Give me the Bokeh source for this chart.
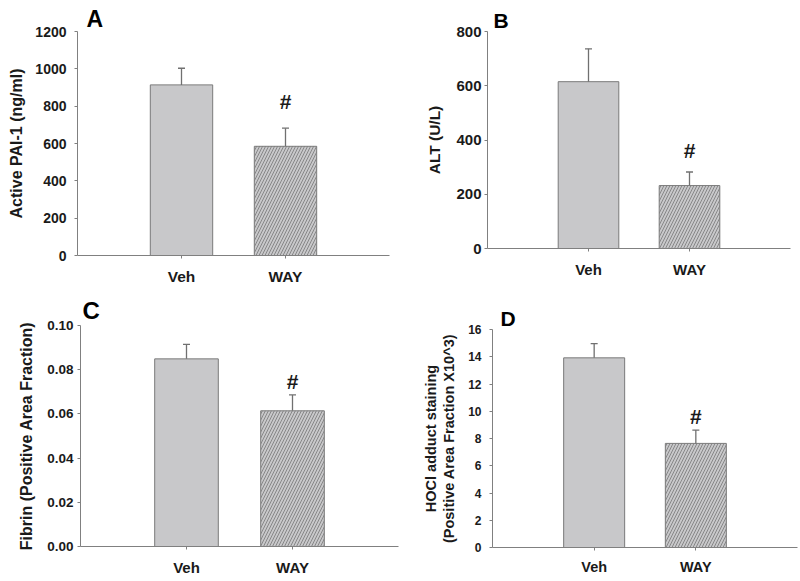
from bokeh.plotting import figure
from bokeh.models import (Range1d, FixedTicker, Whisker, TeeHead, Title,
                          ColumnDataSource, NumeralTickFormatter)
from bokeh.layouts import row, column
from bokeh.embed import file_html
from bokeh.resources import INLINE
from bokeh.core.properties import value

# ---------------- data ----------------
categories = ["Veh", "WAY"]
significance = ["", "#"]

pai1_mean = [914, 585]
pai1_sem = [89, 97]
pai1_ticks = [0, 200, 400, 600, 800, 1000, 1200]

alt_mean = [615, 232]
alt_sem = [121, 50]
alt_ticks = [0, 200, 400, 600, 800]

fibrin_mean = [0.0849, 0.0614]
fibrin_sem = [0.0066, 0.0072]
fibrin_ticks = [0.00, 0.02, 0.04, 0.06, 0.08, 0.10]

hocl_mean = [13.92, 7.64]
hocl_sem = [1.05, 0.98]
hocl_ticks = [0, 2, 4, 6, 8, 10, 12, 14, 16]

# ---------------- style ----------------
FONT = "Liberation Sans"
BAR_FILL = "#c8c8ca"
BAR_LINE = "#7a7a7a"
AXIS = "#808080"
ERR = "#707070"
TEXT = "#1a1a1a"


def panel(letter, ylabel, mean, sem, ticks, fmt, g):
    xs = [i + 1 for i in range(len(categories))]
    err = [m + s for m, s in zip(mean, sem)]
    src = ColumnDataSource(dict(x=xs, mean=mean, err=err, sig=significance,
                                hatch=[" ", "/"]))
    title = Title(text=letter, align="left", offset=g["lx"], standoff=g["ls"],
                  text_font=FONT, text_font_style="bold",
                  text_font_size=g["let_fs"], text_color="#000000",
                  vertical_align="bottom")
    p = figure(width=g["w"], height=g["h"], x_range=Range1d(0, 3),
               y_range=Range1d(ticks[0], ticks[-1]), title=title,
               output_backend="svg", toolbar_location=None,
               min_border_left=g["bl"], min_border_right=g["br"],
               min_border_top=g["bt"], min_border_bottom=g["bb"])
    p.outline_line_color = None
    p.xgrid.visible = False
    p.ygrid.visible = False
    p.background_fill_color = "white"
    p.border_fill_color = "white"

    p.vbar(x="x", top="mean", width=0.6, bottom=0, source=src,
           fill_color=BAR_FILL, line_color=BAR_LINE, line_width=1,
           hatch_pattern="hatch", hatch_color="#6a6a6a", hatch_scale=6,
           hatch_weight=0.7)

    wh = Whisker(source=src, base="x", lower="mean", upper="err",
                 line_color=ERR, line_width=1.3, lower_head=None,
                 upper_head=TeeHead(size=7, line_color=ERR, line_width=1.3),
                 level="annotation")
    p.add_layout(wh)

    p.text(x="x", y="err", text="sig", source=src, text_font=value(FONT),
           text_font_style="bold", text_font_size="21px", text_color=TEXT,
           text_align="center", text_baseline="alphabetic",
           y_offset=-g["gap"])

    # y axis
    ya = p.yaxis[0]
    ya.ticker = FixedTicker(ticks=ticks)
    if fmt:
        ya.formatter = NumeralTickFormatter(format=fmt)
    ya.axis_label = ylabel
    ya.axis_line_color = AXIS
    ya.major_tick_line_color = AXIS
    ya.minor_tick_line_color = None
    ya.major_tick_in = 0
    ya.major_tick_out = 3
    ya.major_label_text_font = FONT
    ya.major_label_text_font_style = "bold"
    ya.major_label_text_font_size = g["tick_fs"]
    ya.major_label_text_color = TEXT
    ya.major_label_standoff = g["tick_so"]
    ya.axis_label_text_font = FONT
    ya.axis_label_text_font_style = "bold"
    ya.axis_label_text_font_size = g["lab_fs"]
    ya.axis_label_text_color = TEXT
    ya.axis_label_standoff = g["lab_so"]
    ya.axis_label_text_line_height = 1.15

    # x axis
    xa = p.xaxis[0]
    xa.ticker = FixedTicker(ticks=xs)
    xa.major_label_overrides = {x: c for x, c in zip(xs, categories)}
    xa.axis_line_color = AXIS
    xa.major_tick_line_color = AXIS
    xa.minor_tick_line_color = None
    xa.major_tick_in = 0
    xa.major_tick_out = 3
    xa.major_label_text_font = FONT
    xa.major_label_text_font_style = "bold"
    xa.major_label_text_font_size = g["cat_fs"]
    xa.major_label_text_color = TEXT
    xa.major_label_standoff = g["cat_so"]
    return p


gA = dict(w=400, h=288, bl=77, br=11, bt=31, bb=33, tick_fs="14px", tick_so=8,
          lab_fs="16px", lab_so=7, cat_fs="15.5px", cat_so=9, let_fs="23px",
          lx=9, ls=0, gap=27)
gB = dict(w=400, h=288, bl=87, br=10, bt=31, bb=40, tick_fs="15px", tick_so=3,
          lab_fs="15.5px", lab_so=10, cat_fs="15px", cat_so=9, let_fs="21px",
          lx=6, ls=0, gap=22)
gC = dict(w=400, h=293, bl=80, br=2, bt=37, bb=35, tick_fs="13.5px", tick_so=4,
          lab_fs="16px", lab_so=9, cat_fs="15px", cat_so=9, let_fs="24px",
          lx=2, ls=4, gap=13)
gD = dict(w=400, h=293, bl=92, br=3, bt=41, bb=34, tick_fs="12px", tick_so=8,
          lab_fs="14.5px", lab_so=8, cat_fs="14.5px", cat_so=8, let_fs="21px",
          lx=8, ls=0, gap=14)

pA = panel("A", "Active PAI-1 (ng/ml)", pai1_mean, pai1_sem, pai1_ticks, None, gA)
pB = panel("B", "ALT (U/L)", alt_mean, alt_sem, alt_ticks, None, gB)
pC = panel("C", "Fibrin (Positive Area Fraction)", fibrin_mean, fibrin_sem,
           fibrin_ticks, "0.00", gC)
pD = panel("D", "HOCl adduct staining\n(Positive Area Fraction X10^3)",
           hocl_mean, hocl_sem, hocl_ticks, None, gD)

# each figure wrapped on its own so that frames are not aligned across a row
layout = column(row(column(pA), column(pB)), row(column(pC), column(pD)))
open("out.html", "w").write(file_html(layout, INLINE))
